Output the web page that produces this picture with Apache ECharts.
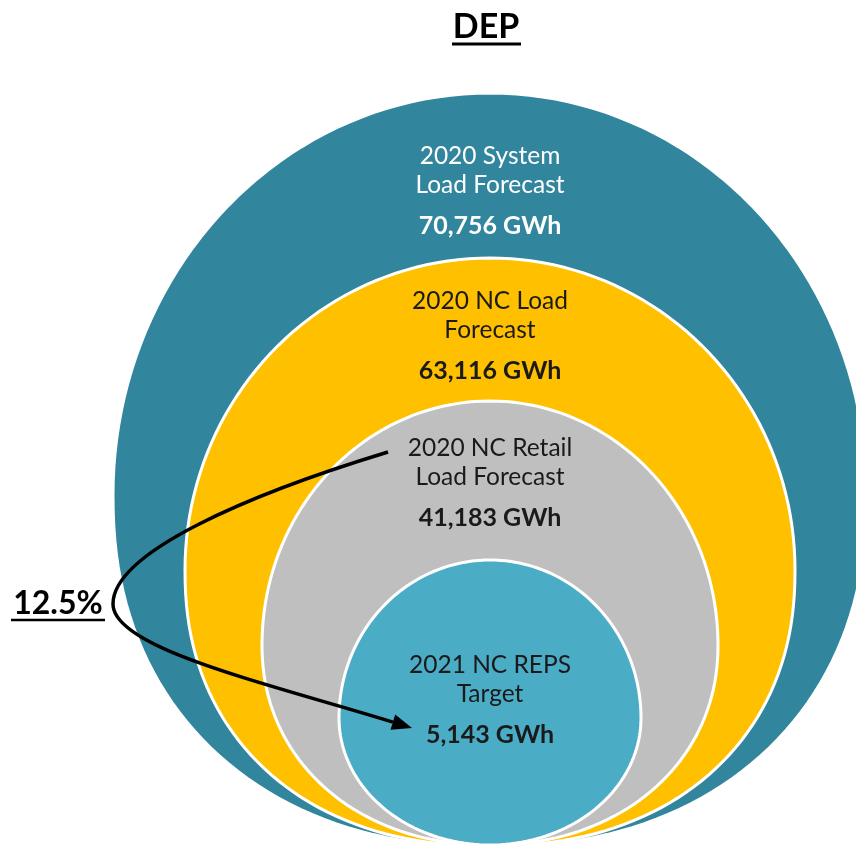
<!DOCTYPE html>
<html>
<head>
<meta charset="utf-8">
<title>DEP</title>
<script src="https://cdn.jsdelivr.net/npm/echarts@6/dist/echarts.min.js"></script>
<style>
  html, body { margin: 0; padding: 0; background: #fff; }
  #dep-chart { width: 856px; height: 849px; }
</style>
</head>
<body>
<div id="dep-chart"></div>
<script>
// ---- data ----
const titleText = 'DEP';
const ringNames = ['2020 System\nLoad Forecast', '2020 NC Load\nForecast', '2020 NC Retail\nLoad Forecast', '2021 NC REPS\nTarget'];
const ringValues = [70756, 63116, 41183, 5143];
const ringUnit = 'GWh';
const repsShare = 12.5;

// ---- layout / styles (canvas units, x 0~856, y 0~849) ----
const centerX = 490;
const ringColors = ['#31859c', '#ffc000', '#bfbfbf', '#4bacc6'];
const ringTextColors = ['#ffffff', '#1a1a1a', '#1a1a1a', '#1a1a1a'];
// top / widest row / bottom / half width / bottom roundness
const ringShape = [
  { top: 93, waist: 495, bottom: 847, half: 377, n: 2.2 },
  { top: 258, waist: 570, bottom: 846, half: 305, n: 2.2 },
  { top: 401, waist: 645, bottom: 845, half: 228, n: 2.1 },
  { top: 560, waist: 718, bottom: 845, half: 151, n: 2 },
];
const ringLabelY = [156, 301, 448, 665];
const lineGap = 29;
const font = 'Lato';

let chart = null;

/**
 * 环形轮廓点：上半椭圆 + 下半超椭圆
 */
const ringPoints = (s, api) => {
  const pts = [];
  const steps = 180;
  for (let k = 0; k <= steps; k++) {
    const t = (k / steps) * Math.PI * 2;
    const c = Math.cos(t);
    const sn = Math.sin(t);
    let x;
    let y;
    if (sn < 0) {
      x = centerX + s.half * c;
      y = s.waist + (s.waist - s.top) * sn;
    } else {
      const e = 2 / s.n;
      x = centerX + s.half * Math.sign(c) * Math.pow(Math.abs(c), e);
      y = s.waist + (s.bottom - s.waist) * Math.pow(sn, e);
    }
    pts.push(api.coord([x, y]));
  }
  return pts;
};

const renderRing = (params, api) => {
  const i = api.value(0);
  const s = ringShape[i];
  const nameAt = api.coord([centerX, ringLabelY[i] + lineGap / 2]);
  const valueAt = api.coord([centerX, ringLabelY[i] + lineGap + 41]);
  const value = api.value(1);
  return {
    type: 'group',
    children: [
      {
        type: 'polygon',
        shape: { points: ringPoints(s, api) },
        style: { fill: ringColors[i], stroke: '#ffffff', lineWidth: 3 },
      },
      {
        type: 'text',
        style: {
          x: nameAt[0],
          y: nameAt[1],
          text: ringNames[i],
          fill: ringTextColors[i],
          font: '24.5px ' + font,
          lineHeight: lineGap,
          align: 'center',
          verticalAlign: 'middle',
        },
      },
      {
        type: 'text',
        style: {
          x: valueAt[0],
          y: valueAt[1],
          text: value.toLocaleString('en-US') + ' ' + ringUnit,
          fill: ringTextColors[i],
          font: 'bold 25px ' + font,
          align: 'center',
          verticalAlign: 'middle',
        },
      },
    ],
  };
};

/**
 * 标题、12.5% 标注与箭头
 */
const renderNotes = (params, api) => {
  const p = (x, y) => api.coord([x, y]);
  const title = p(486, 27);
  const share = p(58, 604);
  // arrow: from retail label, round the left side, into the REPS circle
  const a0 = p(388, 452);
  const a1 = p(250, 494);
  const a2 = p(113, 552);
  const v = p(113, 604);
  const b1 = p(113, 648);
  const b2 = p(262, 682);
  const tip = p(412, 728);
  const dx = tip[0] - b2[0];
  const dy = tip[1] - b2[1];
  const len = Math.sqrt(dx * dx + dy * dy);
  const ux = dx / len;
  const uy = dy / len;
  const headLen = 20;
  const headHalf = 8;
  const base = [tip[0] - ux * headLen, tip[1] - uy * headLen];
  const head = [
    tip,
    [base[0] - uy * headHalf, base[1] + ux * headHalf],
    [base[0] + uy * headHalf, base[1] - ux * headHalf],
  ];
  const lineStyle = { stroke: '#000000', lineWidth: 3.5, fill: null };
  return {
    type: 'group',
    children: [
      {
        type: 'text',
        style: {
          x: title[0], y: title[1], text: titleText,
          fill: '#000000', font: 'bold 34px ' + font, align: 'center', verticalAlign: 'middle',
        },
      },
      {
        type: 'line',
        shape: { x1: p(452, 0)[0], y1: p(0, 44)[1], x2: p(521, 0)[0], y2: p(0, 44)[1] },
        style: { stroke: '#000000', lineWidth: 3 },
      },
      {
        type: 'text',
        style: {
          x: share[0], y: share[1], text: api.value(1).toFixed(1) + '%',
          fill: '#000000', font: 'bold 32px ' + font, align: 'center', verticalAlign: 'middle',
        },
      },
      {
        type: 'line',
        shape: { x1: p(11, 0)[0], y1: p(0, 620)[1], x2: p(105, 0)[0], y2: p(0, 620)[1] },
        style: { stroke: '#000000', lineWidth: 2.5 },
      },
      {
        type: 'bezierCurve',
        shape: { x1: a0[0], y1: a0[1], cpx1: a1[0], cpy1: a1[1], cpx2: a2[0], cpy2: a2[1], x2: v[0], y2: v[1] },
        style: lineStyle,
      },
      {
        type: 'bezierCurve',
        shape: { x1: v[0], y1: v[1], cpx1: b1[0], cpy1: b1[1], cpx2: b2[0], cpy2: b2[1], x2: base[0], y2: base[1] },
        style: lineStyle,
      },
      {
        type: 'polygon',
        shape: { points: head },
        style: { fill: '#000000' },
      },
    ],
  };
};

const option = {
  animation: false,
  backgroundColor: '#ffffff',
  grid: { left: 0, right: 0, top: 0, bottom: 0 },
  xAxis: { type: 'value', min: 0, max: 856, show: false },
  yAxis: { type: 'value', min: 0, max: 849, inverse: true, show: false },
  series: [
    {
      type: 'custom',
      name: 'rings',
      clip: false,
      renderItem: renderRing,
      data: ringValues.map((v, i) => [i, v]),
      z: 1,
    },
    {
      type: 'custom',
      name: 'notes',
      clip: false,
      renderItem: renderNotes,
      data: [[0, repsShare]],
      z: 2,
    },
  ],
};

const initCharts = () => {
  chart = echarts.init(document.getElementById('dep-chart'));
  chart.setOption(option);
};

initCharts();
</script>
</body>
</html>
